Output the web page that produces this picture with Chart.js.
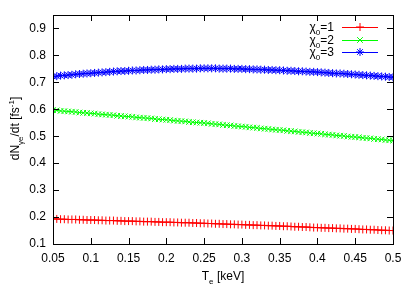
<!DOCTYPE html>
<html>
<head>
<meta charset="utf-8">
<script src="https://cdn.jsdelivr.net/npm/chart.js@4/dist/chart.umd.min.js"></script>
<style>
html,body{margin:0;padding:0;background:#fff;}
#wrap{width:415px;height:297px;position:relative;}
</style>
</head>
<body>
<div id="wrap"><canvas id="c" width="415" height="297"></canvas></div>
<script>
const temperatures = [0.050,0.055,0.060,0.065,0.070,0.075,0.080,0.085,0.090,0.095,
0.100,0.105,0.110,0.115,0.120,0.125,0.130,0.135,0.140,0.145,
0.150,0.155,0.160,0.165,0.170,0.175,0.180,0.185,0.190,0.195,
0.200,0.205,0.210,0.215,0.220,0.225,0.230,0.235,0.240,0.245,
0.250,0.255,0.260,0.265,0.270,0.275,0.280,0.285,0.290,0.295,
0.300,0.305,0.310,0.315,0.320,0.325,0.330,0.335,0.340,0.345,
0.350,0.355,0.360,0.365,0.370,0.375,0.380,0.385,0.390,0.395,
0.400,0.405,0.410,0.415,0.420,0.425,0.430,0.435,0.440,0.445,
0.450,0.455,0.460,0.465,0.470,0.475,0.480,0.485,0.490,0.495,0.500];

const chi1 = [0.193,0.193,0.192,0.192,0.191,0.191,0.191,0.190,0.190,0.189,
0.189,0.189,0.188,0.188,0.187,0.187,0.187,0.186,0.186,0.185,
0.185,0.185,0.184,0.184,0.183,0.183,0.183,0.182,0.182,0.181,
0.181,0.181,0.180,0.180,0.179,0.179,0.179,0.178,0.178,0.177,
0.177,0.176,0.176,0.175,0.175,0.174,0.174,0.173,0.173,0.172,
0.172,0.171,0.171,0.170,0.170,0.169,0.169,0.168,0.168,0.167,
0.167,0.166,0.166,0.165,0.164,0.164,0.163,0.163,0.162,0.161,
0.161,0.160,0.160,0.159,0.159,0.158,0.158,0.157,0.157,0.156,
0.156,0.155,0.154,0.154,0.153,0.153,0.152,0.151,0.151,0.150,0.150];

const chi2 = [0.597,0.596,0.594,0.593,0.592,0.591,0.590,0.588,0.587,0.586,
0.585,0.584,0.582,0.581,0.580,0.579,0.578,0.576,0.575,0.574,
0.573,0.572,0.570,0.569,0.568,0.567,0.566,0.564,0.563,0.562,
0.561,0.560,0.558,0.557,0.556,0.555,0.553,0.552,0.551,0.550,
0.549,0.548,0.546,0.545,0.544,0.542,0.541,0.540,0.538,0.537,
0.536,0.535,0.533,0.532,0.531,0.529,0.528,0.527,0.525,0.524,
0.523,0.522,0.520,0.519,0.518,0.516,0.515,0.514,0.512,0.511,
0.510,0.509,0.507,0.506,0.505,0.503,0.502,0.501,0.499,0.498,
0.497,0.496,0.494,0.493,0.492,0.490,0.489,0.488,0.486,0.485,0.484];

const chi3 = [0.722,0.723,0.725,0.726,0.727,0.728,0.730,0.731,0.732,0.733,
0.734,0.735,0.736,0.737,0.738,0.739,0.740,0.741,0.742,0.742,
0.743,0.744,0.744,0.745,0.746,0.746,0.747,0.747,0.748,0.748,
0.749,0.749,0.750,0.750,0.750,0.751,0.751,0.751,0.751,0.752,
0.752,0.752,0.752,0.752,0.751,0.751,0.751,0.751,0.750,0.750,
0.750,0.749,0.749,0.748,0.748,0.747,0.747,0.746,0.746,0.745,
0.745,0.744,0.743,0.743,0.742,0.741,0.741,0.740,0.739,0.739,
0.738,0.737,0.736,0.735,0.734,0.733,0.733,0.732,0.731,0.730,
0.729,0.728,0.727,0.726,0.725,0.724,0.723,0.722,0.721,0.720,0.719];

const xTickValues = [0.05,0.1,0.15,0.2,0.25,0.3,0.35,0.4,0.45,0.5];
const xTickLabels = ['0.05','0.1','0.15','0.2','0.25','0.3','0.35','0.4','0.45','0.5'];
const yTickValues = [0.1,0.2,0.3,0.4,0.5,0.6,0.7,0.8,0.9];
const yTickLabels = ['0.1','0.2','0.3','0.4','0.5','0.6','0.7','0.8','0.9'];
const seriesNames = ['1','2','3'];

const FONT = '"Liberation Sans", Arial, Helvetica, sans-serif';
const colors = ['#ff0000','#00ff00','#0000ff'];
const styles = ['cross','crossRot','star'];
const seriesData = [chi1, chi2, chi3];

function toPoints(arr){ return arr.map((v,i)=>({x:temperatures[i], y:v})); }

function richWidth(ctx, parts, size){
  let w=0;
  for(const p of parts){
    const fs = p.s==='n'?size:Math.round(size*0.7);
    ctx.font = fs+'px '+FONT;
    w += ctx.measureText(p.t).width;
  }
  return w;
}
function drawRich(ctx, parts, x, y, size){
  let cx = x;
  ctx.textBaseline='alphabetic';
  ctx.textAlign='left';
  for(const p of parts){
    const fs = p.s==='n'?size:Math.round(size*0.7);
    ctx.font = fs+'px '+FONT;
    let dy = 0;
    if(p.s==='sub') dy = size*0.3;
    if(p.s==='sup') dy = -size*0.45;
    ctx.fillText(p.t, cx, y+dy);
    cx += ctx.measureText(p.t).width;
  }
}

const decor = {
  id:'decor',
  afterDraw(chart){
    const ctx = chart.ctx;
    const xs = chart.scales.x, ys = chart.scales.y;
    const a = chart.chartArea;
    ctx.save();
    ctx.strokeStyle='#000';
    ctx.lineWidth=1;
    ctx.strokeRect(Math.round(a.left)+0.5, Math.round(a.top)+0.5, Math.round(a.right-a.left), Math.round(a.bottom-a.top));
    const tl = 6;
    ctx.beginPath();
    xTickValues.forEach(v=>{
      const px = Math.round(xs.getPixelForValue(v))+0.5;
      ctx.moveTo(px, a.bottom); ctx.lineTo(px, a.bottom-tl);
      ctx.moveTo(px, a.top); ctx.lineTo(px, a.top+tl);
    });
    yTickValues.forEach(v=>{
      const py = Math.round(ys.getPixelForValue(v))+0.5;
      ctx.moveTo(a.left, py); ctx.lineTo(a.left+tl, py);
      ctx.moveTo(a.right, py); ctx.lineTo(a.right-tl, py);
    });
    ctx.stroke();

    ctx.fillStyle='#000';
    const xt = [{t:'T',s:'n'},{t:'e',s:'sub'},{t:' [keV]',s:'n'}];
    const xw = richWidth(ctx, xt, 12);
    drawRich(ctx, xt, (a.left+a.right)/2 - xw/2, 280, 12);
    ctx.save();
    ctx.translate(19, (a.top+a.bottom)/2 - 1);
    ctx.rotate(-Math.PI/2);
    const yt = [{t:'dN',s:'n'},{t:'γe',s:'sub'},{t:'/dt [fs',s:'n'},{t:'-1',s:'sup'},{t:']',s:'n'}];
    const yw = richWidth(ctx, yt, 12);
    drawRich(ctx, yt, -yw/2, 0, 12);
    ctx.restore();

    const legY = [27, 40, 52];
    const textRight = 334, lx1 = 342, lx2 = 378;
    seriesNames.forEach((n,i)=>{
      const parts = [{t:'χ',s:'n'},{t:'0',s:'sub'},{t:'='+n,s:'n'}];
      const w = richWidth(ctx, parts, 12);
      ctx.fillStyle='#000';
      drawRich(ctx, parts, textRight - w, legY[i]+4, 12);
      ctx.strokeStyle=colors[i];
      ctx.lineWidth=1;
      ctx.beginPath();
      ctx.moveTo(lx1, legY[i]+0.5); ctx.lineTo(lx2, legY[i]+0.5);
      ctx.stroke();
      Chart.helpers.drawPoint(ctx, {pointStyle:styles[i], radius:4, borderWidth:1}, (lx1+lx2)/2, legY[i]);
    });
    ctx.restore();
  }
};

new Chart(document.getElementById('c'), {
  type:'line',
  data:{
    datasets: seriesData.map((d,i)=>({
      label:'χ0='+seriesNames[i],
      data: toPoints(d),
      borderColor: colors[i],
      backgroundColor: colors[i],
      borderWidth: 1,
      pointStyle: styles[i],
      pointRadius: 4,
      pointBorderWidth: 1,
      pointBorderColor: colors[i],
      tension: 0,
      fill:false
    }))
  },
  options:{
    responsive:false,
    animation:false,
    devicePixelRatio:1,
    layout:{padding:{top:15, right:22, left:0, bottom:0}},
    plugins:{legend:{display:false}, tooltip:{enabled:false}},
    scales:{
      x:{
        type:'linear', min:0.05, max:0.5,
        afterBuildTicks(s){ s.ticks = xTickValues.map(v=>({value:v})); },
        afterFit(s){ s.height = 53; },
        grid:{display:false, drawTicks:false},
        border:{display:false},
        ticks:{
          padding:7, color:'#000', maxRotation:0, autoSkip:false,
          font:{family:FONT, size:12},
          callback(v){ const k = xTickValues.findIndex(t=>Math.abs(t-v)<1e-9); return k>=0?xTickLabels[k]:''; }
        }
      },
      y:{
        type:'linear', min:0.1, max:0.95,
        afterBuildTicks(s){ s.ticks = yTickValues.map(v=>({value:v})); },
        afterFit(s){ s.width = 53; },
        grid:{display:false, drawTicks:false},
        border:{display:false},
        ticks:{
          padding:7, color:'#000', autoSkip:false,
          font:{family:FONT, size:12},
          callback(v){ const k = yTickValues.findIndex(t=>Math.abs(t-v)<1e-9); return k>=0?yTickLabels[k]:''; }
        }
      }
    }
  },
  plugins:[decor]
});
</script>
</body>
</html>
